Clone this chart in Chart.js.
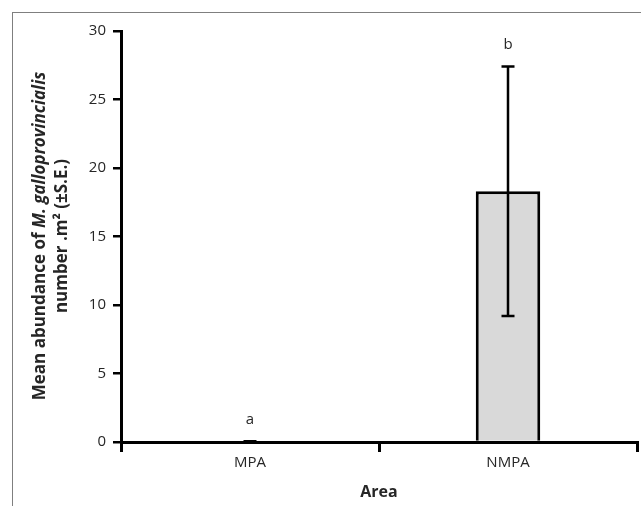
<!DOCTYPE html>
<html lang="en">
<head>
    <meta charset="UTF-8">
    <title>Mean abundance of M. galloprovincialis</title>
    <style>
        html, body {
            margin: 0;
            padding: 0;
            background: #fff;
            overflow: hidden;
        }
        #wrap {
            position: relative;
            width: 641px;
            height: 506px;
        }
        #frame {
            position: absolute;
            left: 12px;
            top: 12px;
            width: 640px;
            height: 600px;
            border-top: 1px solid #7f7f7f;
            border-left: 1px solid #7f7f7f;
        }
        #chart {
            position: absolute;
            left: 0;
            top: 0;
        }
    </style>
    <script src="https://cdn.jsdelivr.net/npm/chart.js"></script>
</head>
<body>
    <div id="wrap">
        <div id="frame"></div>
        <canvas id="chart" width="641" height="506"></canvas>
    </div>

    <script>
        // data
        const areas = ['MPA', 'NMPA'];
        const meanAbundance = [0, 18.3];
        const stdError = [0, 9.1];
        const groupLetters = ['a', 'b'];
        const yTicks = [0, 5, 10, 15, 20, 25, 30];

        const textColor = '#262626';
        const fontFamily = '"Open Sans", Lato, sans-serif';

        // error bars and significance letters
        const errorBarPlugin = {
            id: 'errorBars',
            afterDraw(chart) {
                const ctx = chart.ctx;
                const x = chart.scales.x;
                const y = chart.scales.y;
                ctx.save();
                ctx.strokeStyle = '#000';
                areas.forEach((a, i) => {
                    const cx = x.getPixelForValue(i);
                    const top = y.getPixelForValue(meanAbundance[i] + stdError[i]);
                    const bot = y.getPixelForValue(Math.max(0, meanAbundance[i] - stdError[i]));
                    ctx.lineWidth = stdError[i] > 0 ? 2.5 : 4;
                    ctx.beginPath();
                    ctx.moveTo(cx, top);
                    ctx.lineTo(cx, bot);
                    ctx.moveTo(cx - 6.5, top);
                    ctx.lineTo(cx + 6.5, top);
                    ctx.moveTo(cx - 6.5, bot);
                    ctx.lineTo(cx + 6.5, bot);
                    ctx.stroke();

                    ctx.fillStyle = textColor;
                    ctx.font = '15px ' + fontFamily;
                    ctx.textAlign = 'center';
                    ctx.textBaseline = 'middle';
                    ctx.fillText(groupLetters[i], cx, top - 22);
                });
                ctx.restore();
            }
        };

        // two line y title with italic species name
        const yTitlePlugin = {
            id: 'yTitle',
            afterDraw(chart) {
                const ctx = chart.ctx;
                // fit first line to the length it has in the figure
                ctx.font = 'bold 16px ' + fontFamily;
                let w = ctx.measureText('Mean abundance of ').width;
                ctx.font = 'italic bold 16px ' + fontFamily;
                w += ctx.measureText('M. galloprovincialis').width;
                const size = Math.min(17, 16 * 354 / w).toFixed(1);
                const bold = 'bold ' + size + 'px ' + fontFamily;
                const boldItalic = 'italic bold ' + size + 'px ' + fontFamily;
                const lines = [
                    { x: 40, parts: [['Mean abundance of ', bold], ['M. galloprovincialis', boldItalic]] },
                    { x: 62, parts: [['number .m\u00B2 (\u00B1S.E.)', bold]] }
                ];
                const cy = 236;
                ctx.save();
                ctx.fillStyle = textColor;
                ctx.textBaseline = 'middle';
                ctx.textAlign = 'left';
                lines.forEach(line => {
                    let total = 0;
                    line.parts.forEach(p => { ctx.font = p[1]; total += ctx.measureText(p[0]).width; });
                    ctx.save();
                    ctx.translate(line.x, cy);
                    ctx.rotate(-Math.PI / 2);
                    let pos = -total / 2;
                    line.parts.forEach(p => {
                        ctx.font = p[1];
                        ctx.fillText(p[0], pos, 0);
                        pos += ctx.measureText(p[0]).width;
                    });
                    ctx.restore();
                });
                ctx.restore();
            }
        };

        const ctx = document.getElementById('chart').getContext('2d');
        const chart = new Chart(ctx, {
            type: 'bar',
            data: {
                labels: areas,
                datasets: [{
                    data: meanAbundance,
                    backgroundColor: '#d9d9d9',
                    borderColor: '#000',
                    borderWidth: 3,
                    borderSkipped: 'bottom',
                    barPercentage: 0.25,
                    categoryPercentage: 1.0
                }]
            },
            options: {
                responsive: false,
                animation: false,
                devicePixelRatio: 1,
                layout: {
                    padding: { top: 31, right: 4, left: 0, bottom: 0 }
                },
                plugins: {
                    legend: { display: false },
                    tooltip: { enabled: false }
                },
                scales: {
                    x: {
                        offset: true,
                        z: 1,
                        afterFit(scale) { scale.height = 64; },
                        border: { display: true, color: '#000', width: 3 },
                        grid: {
                            offset: true,
                            drawOnChartArea: false,
                            drawTicks: true,
                            tickLength: 10,
                            color: '#000',
                            lineWidth: 3
                        },
                        ticks: {
                            color: textColor,
                            padding: 2,
                            font: { family: fontFamily, size: 15 }
                        },
                        title: {
                            display: true,
                            text: 'Area',
                            color: textColor,
                            padding: { top: 0, bottom: 4 },
                            font: { family: fontFamily, size: 16, weight: 'bold' }
                        }
                    },
                    y: {
                        min: 0,
                        max: 30,
                        afterFit(scale) { scale.width = 121; },
                        afterBuildTicks(scale) {
                            scale.ticks = yTicks.map(v => ({ value: v }));
                        },
                        border: { display: true, color: '#000', width: 3 },
                        grid: {
                            drawOnChartArea: false,
                            drawTicks: true,
                            tickLength: 8,
                            color: '#000',
                            lineWidth: 2.5
                        },
                        ticks: {
                            color: textColor,
                            padding: 7,
                            font: { family: fontFamily, size: 15 }
                        }
                    }
                }
            },
            plugins: [errorBarPlugin, yTitlePlugin]
        });
    </script>
</body>
</html>
